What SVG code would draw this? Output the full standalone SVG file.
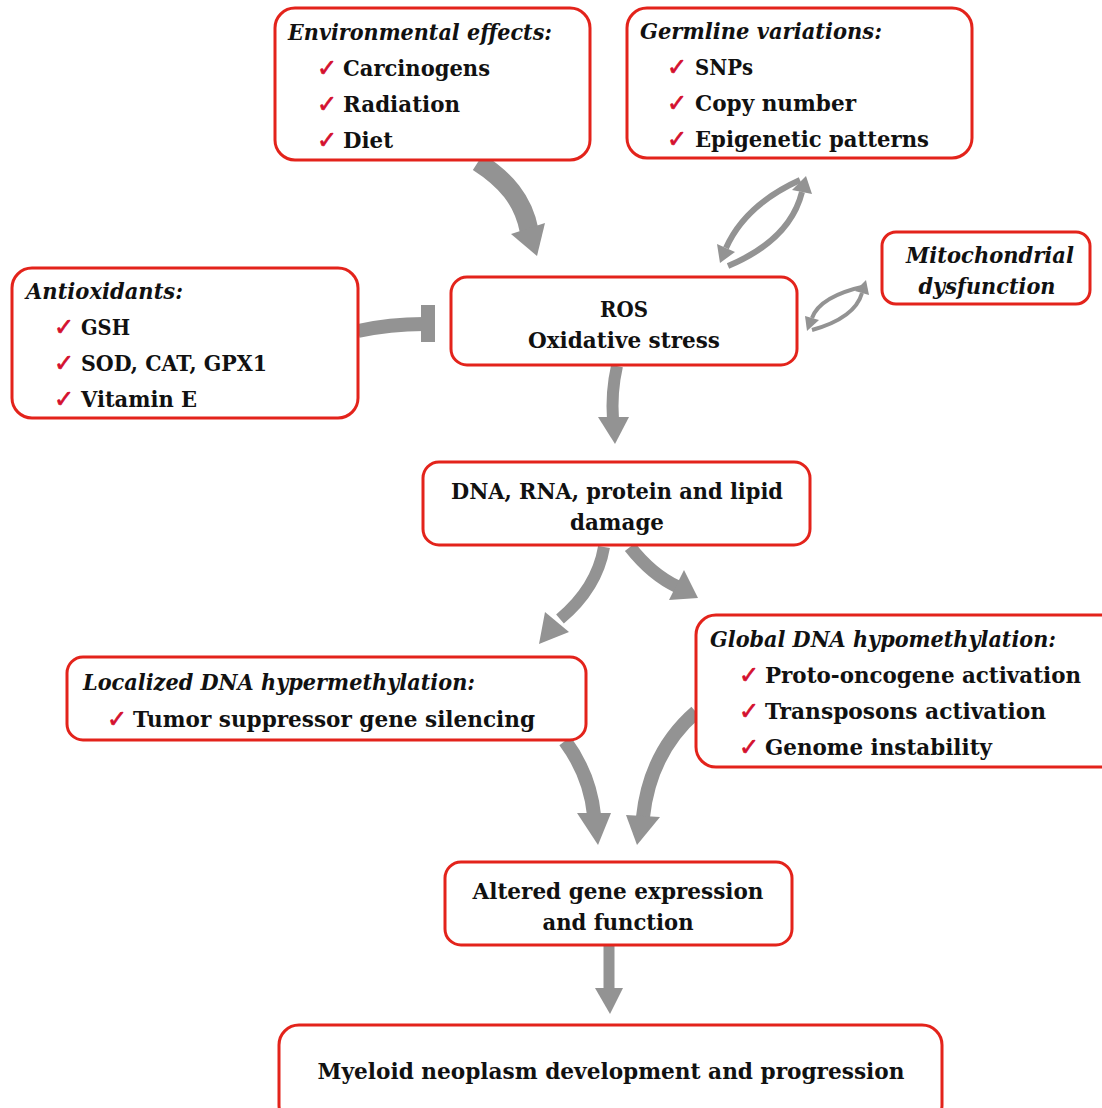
<svg xmlns="http://www.w3.org/2000/svg" width="1102" height="1108" viewBox="0 0 1102 1108">
<style>
.box{fill:#fff;stroke:#e3231b;stroke-width:3}
.t{font-family:'DejaVu Serif','Liberation Serif',serif;font-weight:bold;font-size:22px;fill:#111}
.ti{font-family:'DejaVu Serif','Liberation Serif',serif;font-weight:bold;font-style:italic;font-size:22px;fill:#111}
.c{text-anchor:middle}
.ck{font-family:'DejaVu Sans',sans-serif;font-size:24px;fill:#d4102e;stroke:#d4102e;stroke-width:0.7}
.sh{fill:none;stroke:#939393;stroke-linecap:butt}
.hd{fill:#939393}
</style>
<rect width="1102" height="1108" fill="#fff"/>
<g id="connectors">
  <path class="sh" d="M478,162 C506,180 523,200 529,230" stroke-width="19"/>
  <polygon class="hd" points="511,234 545,223 537,256"/>
  <path class="sh" d="M800,180 Q745,205 726,248" stroke-width="6"/>
  <polygon class="hd" points="717,244 735,252 720,263"/>
  <path class="sh" d="M728,266 Q790,240 802,192" stroke-width="6"/>
  <polygon class="hd" points="792,190 812,194 806,176"/>
  <path class="sh" d="M812,330 Q855,318 862,293" stroke-width="4"/>
  <polygon class="hd" points="855,291 869,295 866,280"/>
  <path class="sh" d="M866,286 Q820,296 812,318" stroke-width="4"/>
  <polygon class="hd" points="805,316 819,320 807,331"/>
  <path class="sh" d="M358,331 Q390,324 424,324" stroke-width="14"/>
  <rect class="hd" x="421" y="305" width="14" height="37"/>
  <path class="sh" d="M617,366 Q611,392 613,420" stroke-width="12"/>
  <polygon class="hd" points="598,417 629,417 615,444"/>
  <path class="sh" d="M604,547 Q597,588 560,619" stroke-width="12"/>
  <polygon class="hd" points="545,612 569,632 539,644"/>
  <path class="sh" d="M630,547 Q652,575 678,587" stroke-width="13"/>
  <polygon class="hd" points="684,570 669,600 698,598"/>
  <path class="sh" d="M565,741 Q590,775 594,815" stroke-width="14"/>
  <polygon class="hd" points="577,813 611,813 598,845"/>
  <path class="sh" d="M696,712 Q650,752 643,817" stroke-width="14"/>
  <polygon class="hd" points="626,815 660,817 637,845"/>
  <path class="sh" d="M609,946 L609,990" stroke-width="11"/>
  <polygon class="hd" points="595,988 623,988 610,1014"/>
</g>
<g id="env">
  <rect class="box" x="275" y="8" width="315" height="152" rx="20"/>
  <text class="ti" x="288" y="40" textLength="264" lengthAdjust="spacingAndGlyphs">Environmental effects:</text>
  <text class="ck" x="317" y="76">✓</text><text class="t" x="343" y="76" textLength="147" lengthAdjust="spacingAndGlyphs">Carcinogens</text>
  <text class="ck" x="317" y="112">✓</text><text class="t" x="343" y="112" textLength="117" lengthAdjust="spacingAndGlyphs">Radiation</text>
  <text class="ck" x="317" y="148">✓</text><text class="t" x="343" y="148" textLength="50" lengthAdjust="spacingAndGlyphs">Diet</text>
</g>
<g id="germline">
  <rect class="box" x="627" y="8" width="345" height="150" rx="20"/>
  <text class="ti" x="640" y="39" textLength="242" lengthAdjust="spacingAndGlyphs">Germline variations:</text>
  <text class="ck" x="667" y="75">✓</text><text class="t" x="695" y="75" textLength="58" lengthAdjust="spacingAndGlyphs">SNPs</text>
  <text class="ck" x="667" y="111">✓</text><text class="t" x="695" y="111" textLength="161" lengthAdjust="spacingAndGlyphs">Copy number</text>
  <text class="ck" x="667" y="147">✓</text><text class="t" x="695" y="147" textLength="234" lengthAdjust="spacingAndGlyphs">Epigenetic patterns</text>
</g>
<g id="antioxidants">
  <rect class="box" x="12" y="268" width="346" height="150" rx="20"/>
  <text class="ti" x="26" y="299" textLength="157" lengthAdjust="spacingAndGlyphs">Antioxidants:</text>
  <text class="ck" x="54" y="335">✓</text><text class="t" x="81" y="335" textLength="49" lengthAdjust="spacingAndGlyphs">GSH</text>
  <text class="ck" x="54" y="371">✓</text><text class="t" x="81" y="371" textLength="186" lengthAdjust="spacingAndGlyphs">SOD, CAT, GPX1</text>
  <text class="ck" x="54" y="407">✓</text><text class="t" x="81" y="407" textLength="116" lengthAdjust="spacingAndGlyphs">Vitamin E</text>
</g>
<g id="ros">
  <rect class="box" x="451" y="277" width="346" height="88" rx="16"/>
  <text class="t c" x="624" y="317" textLength="48" lengthAdjust="spacingAndGlyphs">ROS</text>
  <text class="t c" x="624" y="348" textLength="192" lengthAdjust="spacingAndGlyphs">Oxidative stress</text>
</g>
<g id="mito">
  <rect class="box" x="882" y="232" width="208" height="72" rx="14"/>
  <text class="ti c" x="990" y="263" textLength="168" lengthAdjust="spacingAndGlyphs">Mitochondrial</text>
  <text class="ti c" x="987" y="294" textLength="137" lengthAdjust="spacingAndGlyphs">dysfunction</text>
</g>
<g id="damage">
  <rect class="box" x="423" y="462" width="387" height="83" rx="16"/>
  <text class="t c" x="617" y="499" textLength="332" lengthAdjust="spacingAndGlyphs">DNA, RNA, protein and lipid</text>
  <text class="t c" x="617" y="530" textLength="94" lengthAdjust="spacingAndGlyphs">damage</text>
</g>
<g id="localized">
  <rect class="box" x="67" y="657" width="519" height="83" rx="16"/>
  <text class="ti" x="83" y="690" textLength="392" lengthAdjust="spacingAndGlyphs">Localized DNA hypermethylation:</text>
  <text class="ck" x="107" y="727">✓</text><text class="t" x="133" y="727" textLength="402" lengthAdjust="spacingAndGlyphs">Tumor suppressor gene silencing</text>
</g>
<g id="global">
  <rect class="box" x="696" y="615" width="430" height="152" rx="20"/>
  <text class="ti" x="710" y="647" textLength="346" lengthAdjust="spacingAndGlyphs">Global DNA hypomethylation:</text>
  <text class="ck" x="739" y="683">✓</text><text class="t" x="765" y="683" textLength="316" lengthAdjust="spacingAndGlyphs">Proto-oncogene activation</text>
  <text class="ck" x="739" y="719">✓</text><text class="t" x="765" y="719" textLength="281" lengthAdjust="spacingAndGlyphs">Transposons activation</text>
  <text class="ck" x="739" y="755">✓</text><text class="t" x="765" y="755" textLength="227" lengthAdjust="spacingAndGlyphs">Genome instability</text>
</g>
<g id="altered">
  <rect class="box" x="445" y="862" width="347" height="83" rx="16"/>
  <text class="t c" x="618" y="899" textLength="291" lengthAdjust="spacingAndGlyphs">Altered gene expression</text>
  <text class="t c" x="618" y="930" textLength="151" lengthAdjust="spacingAndGlyphs">and function</text>
</g>
<g id="myeloid">
  <rect class="box" x="279" y="1025" width="663" height="100" rx="20"/>
  <text class="t c" x="611" y="1079" textLength="587" lengthAdjust="spacingAndGlyphs">Myeloid neoplasm development and progression</text>
</g>
</svg>
